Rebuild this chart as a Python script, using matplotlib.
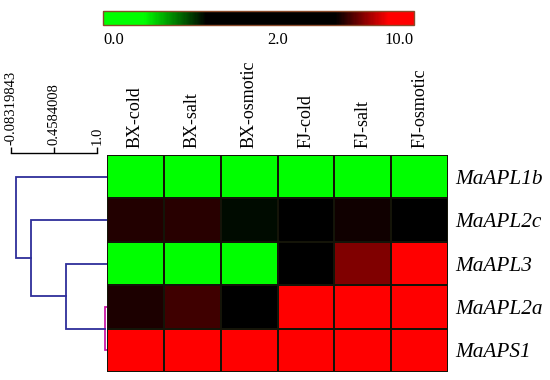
import numpy as np
import matplotlib
matplotlib.use("Agg")
import matplotlib.pyplot as plt
from matplotlib.colors import LinearSegmentedColormap, FuncNorm

# data
conditions = ["BX-cold", "BX-salt", "BX-osmotic", "FJ-cold", "FJ-salt", "FJ-osmotic"]
genes = ["MaAPL1b", "MaAPL2c", "MaAPL3", "MaAPL2a", "MaAPS1"]
expr_apl1b = [0.2, 0.15, 0.2, 0.1, 0.2, 0.2]
expr_apl2c = [5.85, 5.95, 1.15, 2.5, 5.6, 3.0]
expr_apl3 = [0.2, 0.2, 0.2, 3.5, 7.0, 9.5]
expr_apl2a = [5.8, 6.2, 3.0, 9.8, 9.5, 9.6]
expr_aps1 = [9.5, 9.8, 9.5, 9.6, 9.7, 9.5]

# dendrogram merges: (left, right, similarity); node ids >= 5 are earlier merges
merges = [(3, 4, 1.10), (2, 5, 0.61), (1, 6, 0.169), (0, 7, -0.02)]
scale_ticks = [-0.08319843, 0.4584008, 1.0]
scale_labels = ["-0.08319843", "0.4584008", "1.0"]
cbar_labels = ["0.0", "2.0", "10.0"]

data = np.array([expr_apl1b, expr_apl2c, expr_apl3, expr_apl2a, expr_aps1])

W, H = 550, 380
fig = plt.figure(figsize=(W / 100, H / 100), dpi=100)

def px_axes(x0, y0, x1, y1):
    return fig.add_axes([x0 / W, 1 - y1 / H, (x1 - x0) / W, (y1 - y0) / H])

cmap = LinearSegmentedColormap.from_list(
    "gbr", [(0, "#00ff00"), (0.13, "#00ff00"), (0.33, "#000000"),
            (0.75, "#000000"), (0.92, "#ff0000"), (1, "#ff0000")])
fwd = lambda v: np.interp(v, [0, 2, 10], [0, 0.56, 1])
inv = lambda n: np.interp(n, [0, 0.56, 1], [0, 2, 10])
norm = FuncNorm((fwd, inv), vmin=0, vmax=10)

serif = "Liberation Serif"

# heatmap
ax = px_axes(107, 155, 448, 372)
mesh = ax.pcolormesh(data, cmap=cmap, norm=norm, edgecolors="#141408", linewidth=1.3)
ax.set_xlim(0, len(conditions))
ax.set_ylim(len(genes), 0)
ax.xaxis.tick_top()
ax.set_xticks(np.arange(len(conditions)) + 0.5)
ax.set_xticklabels(conditions, rotation=90, family=serif, fontsize=13)
ax.yaxis.tick_right()
ax.set_yticks(np.arange(len(genes)) + 0.5)
ax.set_yticklabels(genes, family=serif, style="italic", fontsize=15.3)
ax.tick_params(length=0, pad=5)
for s in ax.spines.values():
    s.set_visible(False)

# dendrogram
dax = px_axes(11, 155, 107, 372)
dax.set_xlim(-0.08319843, 1.126)
dax.set_ylim(len(genes), 0)
leaf_right = 1.126
pos = {i: (leaf_right, i + 0.5) for i in range(len(genes))}
for k, (a, b, sim) in enumerate(merges):
    col = "#cc1aa8" if k == 0 else "#2e2e9a"
    (xa, ya), (xb, yb) = pos[a], pos[b]
    dax.plot([xa, sim, sim, xb], [ya, ya, yb, yb], color=col, lw=1.3,
             solid_joinstyle="miter")
    pos[len(genes) + k] = (sim, (ya + yb) / 2)

dax.spines[["left", "right", "bottom"]].set_visible(False)
dax.spines["top"].set_bounds(scale_ticks[0], scale_ticks[-1])
dax.spines["top"].set_position(("outward", 1.5))
dax.spines["top"].set_linewidth(1.0)
dax.xaxis.tick_top()
dax.set_xticks(scale_ticks)
dax.set_xticklabels(scale_labels, rotation=90, family=serif, fontsize=10.5)
dax.tick_params(axis="x", length=4.5, width=1.0, pad=1)
dax.set_yticks([])

# colorbar
cax = px_axes(103, 11, 414, 25)
cb = fig.colorbar(mesh, cax=cax, orientation="horizontal")
cb.set_ticks([])
cb.outline.set_edgecolor("#8a4a2a")
cb.outline.set_linewidth(1.0)
for frac, lab, ha in zip([0, 0.56, 1], cbar_labels, ["left", "center", "right"]):
    cax.text(frac, -1.1, lab, transform=cax.transAxes, ha=ha, va="center",
             family=serif, fontsize=12)

fig.savefig("out.png", dpi=100)
